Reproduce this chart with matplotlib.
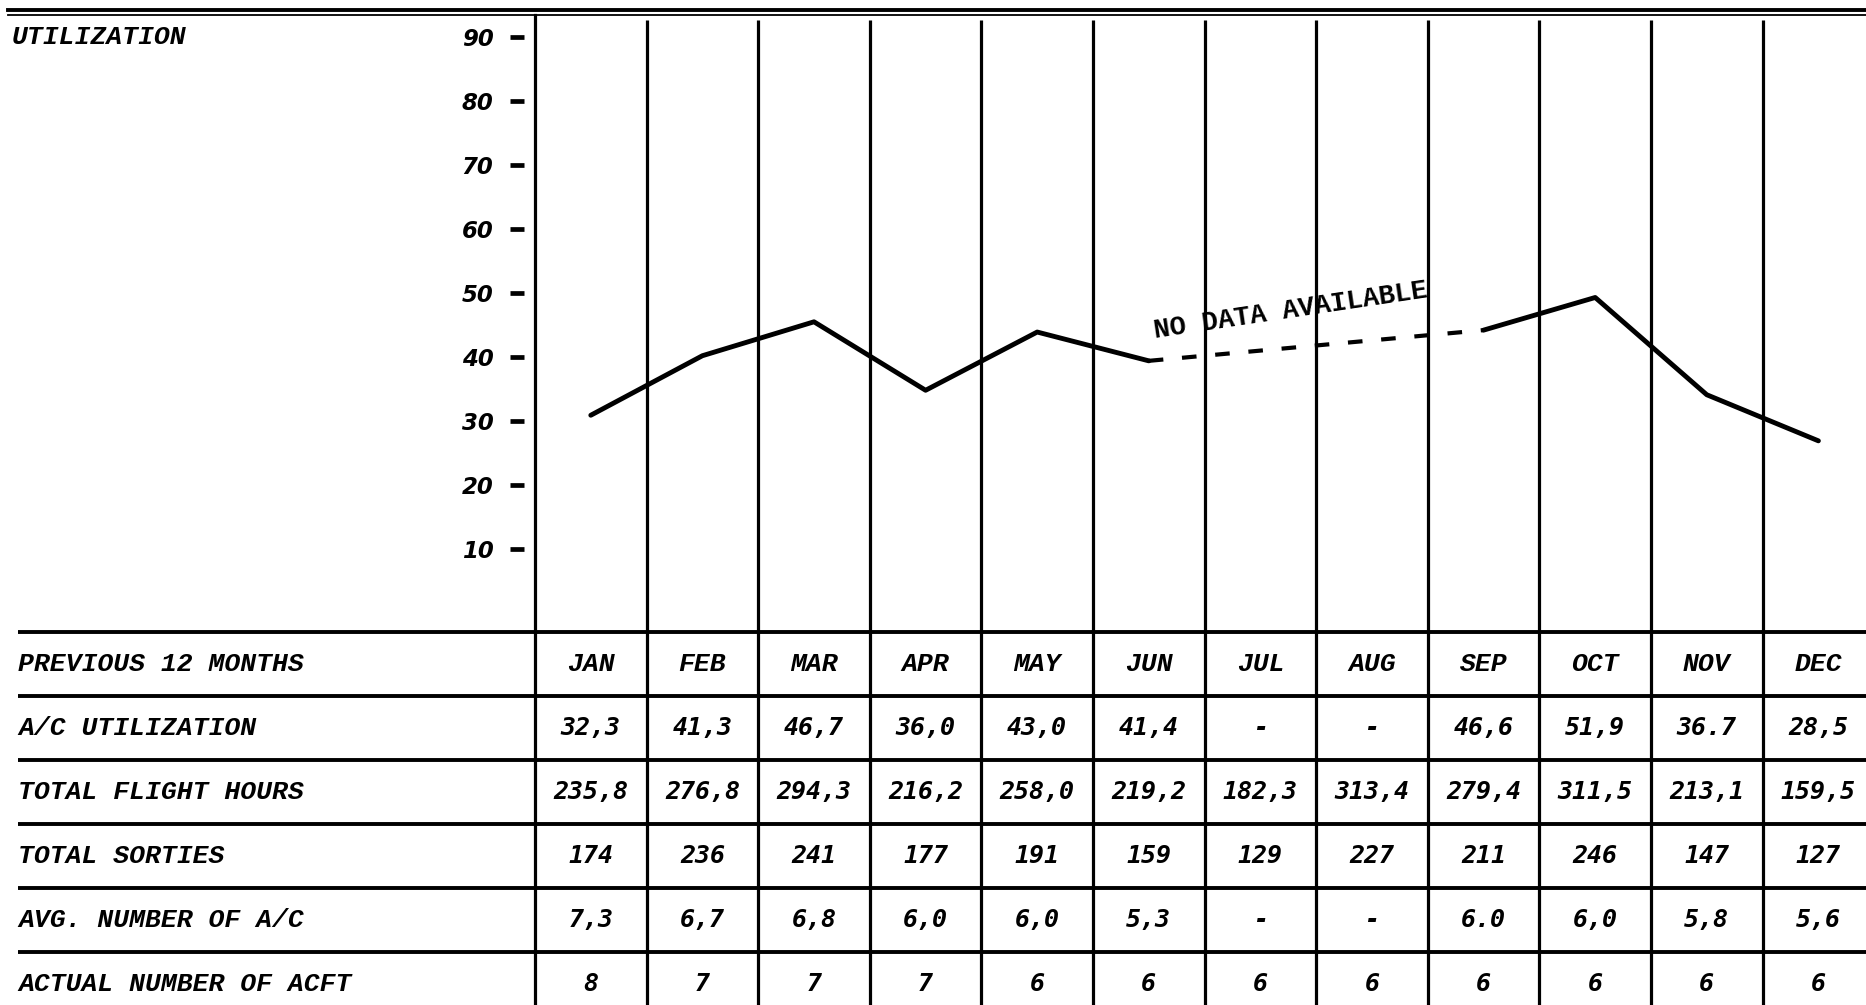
import numpy as np
import matplotlib
matplotlib.use("Agg")
import matplotlib.pyplot as plt
from matplotlib.lines import Line2D
from matplotlib.transforms import blended_transform_factory

# ---------------- data ----------------
months = ["JAN", "FEB", "MAR", "APR", "MAY", "JUN",
          "JUL", "AUG", "SEP", "OCT", "NOV", "DEC"]
# utilization curve as drawn on the chart (nan = no data)
util_curve = [30.9, 40.2, 45.5, 34.8, 43.9, 39.4,
              np.nan, np.nan, 44.2, 49.3, 34.1, 26.9]
y_ticks = [10, 20, 30, 40, 50, 60, 70, 80, 90]

row_labels = ["PREVIOUS 12 MONTHS", "A/C UTILIZATION", "TOTAL FLIGHT HOURS",
              "TOTAL SORTIES", "AVG. NUMBER OF A/C", "ACTUAL NUMBER OF ACFT"]
ac_utilization = ["32,3", "41,3", "46,7", "36,0", "43,0", "41,4",
                  "-", "-", "46,6", "51,9", "36.7", "28,5"]
flight_hours = ["235,8", "276,8", "294,3", "216,2", "258,0", "219,2",
                "182,3", "313,4", "279,4", "311,5", "213,1", "159,5"]
sorties = ["174", "236", "241", "177", "191", "159",
           "129", "227", "211", "246", "147", "127"]
avg_aircraft = ["7,3", "6,7", "6,8", "6,0", "6,0", "5,3",
                "-", "-", "6.0", "6,0", "5,8", "5,6"]
actual_aircraft = ["8", "7", "7", "7", "6", "6",
                   "6", "6", "6", "6", "6", "6"]

# ---------------- layout ----------------
W, H = 1866, 1005
fig = plt.figure(figsize=(W / 100, H / 100), dpi=100)
fig.patch.set_facecolor("white")

col_px = 111.6        # pixel width of one month column
x0_px = 535           # left axis position
chart_top, table_top = 15, 632
zero_px, px_per_unit = 613, 6.4

label_font = dict(family=["Liberation Mono", "DejaVu Sans Mono"],
                  weight="bold", style="italic", size=19)
num_font = dict(family=["DejaVu Sans Mono"],
                weight="bold", style="oblique", size=18)
tick_font = dict(family=["DejaVu Sans"], weight="bold", style="oblique", size=16.5)

LW_V = 2.3   # vertical rule width (pt)
LW_H = 2.8   # horizontal rule width (pt)

# ---- chart axes ----
ax = fig.add_axes([x0_px / W, 1 - table_top / H, (W - x0_px) / W,
                   (table_top - chart_top) / H])
xmax = (W - x0_px) / col_px
ymin = (zero_px - table_top) / px_per_unit
ymax = (zero_px - chart_top) / px_per_unit
ax.set_xlim(0, xmax)
ax.set_ylim(ymin, ymax)
for s in ["top", "right", "bottom"]:
    ax.spines[s].set_visible(False)
ax.spines["left"].set_linewidth(LW_V)
ax.set_xticks([])
ax.set_yticks(y_ticks)
ax.set_yticklabels([str(v) for v in y_ticks], **tick_font)
ax.tick_params(axis="y", length=0, pad=30)

# tick dashes
trans = blended_transform_factory(ax.transAxes, ax.transData)
ax.plot([-0.0135] * len(y_ticks), y_ticks, linestyle="none", marker="_",
        markersize=10, markeredgewidth=3.4, color="black",
        transform=trans, clip_on=False)

# column rules
ax.vlines(np.arange(1, 12), ymin, ymax - 0.8, color="black", lw=LW_V)

# curve
xc = np.arange(12) + 0.5
y = np.array(util_curve, dtype=float)
ax.plot(xc[:6], y[:6], color="black", lw=3.5, solid_capstyle="round",
        solid_joinstyle="round")
ax.plot(xc[8:], y[8:], color="black", lw=3.5, solid_capstyle="round",
        solid_joinstyle="round")
ax.plot([xc[5], xc[8]], [y[5], y[8]], color="black", lw=3.0,
        linestyle=(0, (3.5, 4.5)))
ax.text(xc[5] + 0.06, y[5] + 3.6, "NO DATA AVAILABLE",
        family=["Liberation Mono", "DejaVu Sans Mono"], size=19.5,
        weight="bold", rotation=8.5, rotation_mode="anchor",
        ha="left", va="baseline")

# title label
fig.text(12 / W, 1 - 37 / H, "UTILIZATION", ha="left", va="center",
         **label_font)

# top double rule
fig.add_artist(Line2D([8 / W, 1], [1 - 10 / H, 1 - 10 / H], lw=2.8,
                      color="black", transform=fig.transFigure))
fig.add_artist(Line2D([8 / W, 1], [1 - 15 / H, 1 - 15 / H], lw=1.3,
                      color="black", transform=fig.transFigure))

# ---- table axes ----
row_px = 64
tab = fig.add_axes([0, 0, 1, (H - table_top) / H])
tab.set_xlim(-x0_px / col_px, xmax)
tab.set_ylim((H - table_top) / row_px, 0)
tab.axis("off")

n_rows = len(row_labels)
left_x = (18 - x0_px) / col_px
tab.hlines(np.arange(n_rows), left_x, xmax, color="black", lw=LW_H,
           clip_on=False)
tab.vlines(np.arange(12), 0, (H - table_top) / row_px, color="black",
           lw=LW_V, clip_on=False)

table_rows = [months, ac_utilization, flight_hours, sorties,
              avg_aircraft, actual_aircraft]
for r, (lab, vals) in enumerate(zip(row_labels, table_rows)):
    tab.text(left_x, r + 0.5, lab, ha="left", va="center", **label_font)
    for c, v in enumerate(vals):
        f = label_font if r == 0 else num_font
        tab.text(c + 0.5, r + 0.5, v, ha="center", va="center", **f)

fig.savefig("out.png", dpi=100, facecolor="white")
